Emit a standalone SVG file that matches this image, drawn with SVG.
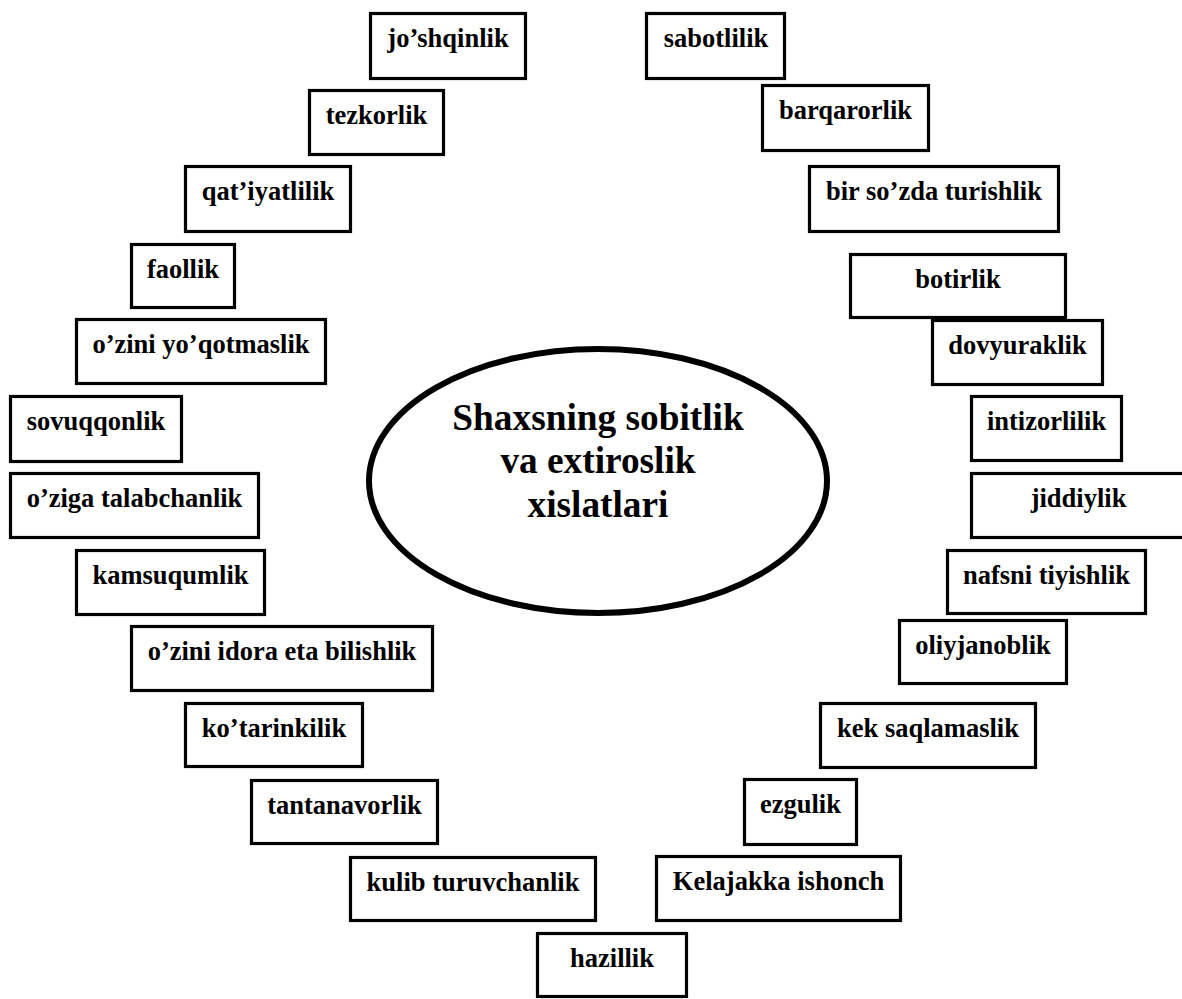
<svg xmlns="http://www.w3.org/2000/svg" width="1182" height="999" viewBox="0 0 1182 999">
<style>
.box rect{fill:#fff;stroke:#000;stroke-width:3.2}
.box text{font-family:"Liberation Serif","Times New Roman",serif;font-weight:bold;font-size:26.5px;text-anchor:middle;fill:#000}
.center ellipse{fill:#fff;stroke:#000;stroke-width:6}
.center text{font-family:"Liberation Serif","Times New Roman",serif;font-weight:bold;font-size:37.3px;text-anchor:middle;fill:#000}
</style>
<rect width="1182" height="999" fill="#fff"/>
<g id="connectors"></g>
<g id="center" class="center">
<ellipse cx="598" cy="481" rx="229" ry="132"/>
<text x="598" y="430">Shaxsning sobitlik</text>
<text x="598" y="473">va extiroslik</text>
<text x="598" y="517">xislatlari</text>
</g>
<g id="n-joshqinlik" class="box"><rect x="370.5" y="13.5" width="155" height="65"/><text x="448" y="47">jo’shqinlik</text></g>
<g id="n-tezkorlik" class="box"><rect x="309.5" y="90.5" width="134" height="64"/><text x="376.5" y="124">tezkorlik</text></g>
<g id="n-qatiyatlilik" class="box"><rect x="185.5" y="166.5" width="165" height="65"/><text x="268" y="200">qat’iyatlilik</text></g>
<g id="n-faollik" class="box"><rect x="131.5" y="244.5" width="103" height="63"/><text x="183" y="278">faollik</text></g>
<g id="n-ozini-yoqotmaslik" class="box"><rect x="76.5" y="319.5" width="249" height="64"/><text x="201" y="353">o’zini yo’qotmaslik</text></g>
<g id="n-sovuqqonlik" class="box"><rect x="10.5" y="396.5" width="171" height="65"/><text x="96" y="430">sovuqqonlik</text></g>
<g id="n-oziga-talabchanlik" class="box"><rect x="10.5" y="473.5" width="248" height="64"/><text x="134.5" y="507">o’ziga talabchanlik</text></g>
<g id="n-kamsuqumlik" class="box"><rect x="76.5" y="550.5" width="188" height="64"/><text x="170.5" y="584">kamsuqumlik</text></g>
<g id="n-ozini-idora" class="box"><rect x="131.5" y="626.5" width="301" height="64"/><text x="282" y="660">o’zini idora eta bilishlik</text></g>
<g id="n-kotarinkilik" class="box"><rect x="185.5" y="703.5" width="177" height="63"/><text x="274" y="737">ko’tarinkilik</text></g>
<g id="n-tantanavorlik" class="box"><rect x="251.5" y="780.5" width="186" height="63"/><text x="344.5" y="814">tantanavorlik</text></g>
<g id="n-kulib" class="box"><rect x="350.5" y="857.5" width="245" height="63"/><text x="473" y="891">kulib turuvchanlik</text></g>
<g id="n-hazillik" class="box"><rect x="537.5" y="933.5" width="149" height="63"/><text x="612" y="967">hazillik</text></g>
<g id="n-sabotlilik" class="box"><rect x="646.5" y="13.5" width="138" height="65"/><text x="716" y="47">sabotlilik</text></g>
<g id="n-barqarorlik" class="box"><rect x="762.5" y="85.5" width="166" height="65"/><text x="845.5" y="119">barqarorlik</text></g>
<g id="n-bir-sozda" class="box"><rect x="809.5" y="166.5" width="249" height="65"/><text x="934" y="200">bir so’zda turishlik</text></g>
<g id="n-botirlik" class="box"><rect x="850.5" y="254.5" width="215" height="63"/><text x="958" y="288">botirlik</text></g>
<g id="n-dovyuraklik" class="box"><rect x="932.5" y="320.5" width="170" height="64"/><text x="1017.5" y="354">dovyuraklik</text></g>
<g id="n-intizorlilik" class="box"><rect x="971.5" y="396.5" width="150" height="64"/><text x="1046.5" y="430">intizorlilik</text></g>
<g id="n-jiddiylik" class="box"><rect x="971.5" y="473.5" width="214" height="64"/><text x="1078.5" y="507">jiddiylik</text></g>
<g id="n-nafsni" class="box"><rect x="947.5" y="550.5" width="198" height="63"/><text x="1046.5" y="584">nafsni tiyishlik</text></g>
<g id="n-oliyjanoblik" class="box"><rect x="899.5" y="620.5" width="167" height="63"/><text x="983" y="654">oliyjanoblik</text></g>
<g id="n-kek" class="box"><rect x="820.5" y="703.5" width="215" height="64"/><text x="928" y="737">kek saqlamaslik</text></g>
<g id="n-ezgulik" class="box"><rect x="744.5" y="779.5" width="112" height="65"/><text x="800.5" y="813">ezgulik</text></g>
<g id="n-kelajakka" class="box"><rect x="656.5" y="856.5" width="244" height="64"/><text x="778.5" y="890">Kelajakka ishonch</text></g>
</svg>
